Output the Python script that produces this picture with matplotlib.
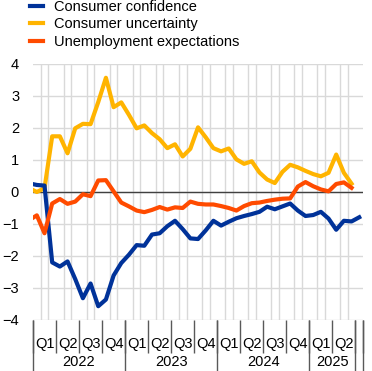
import numpy as np
import matplotlib
matplotlib.use("Agg")
import matplotlib.pyplot as plt
import matplotlib.transforms as mtransforms

plt.rcParams['font.family'] = ['Liberation Sans', 'DejaVu Sans']

# monthly values, Dec 2021 onwards (Dec 2021 sits just left of the axis)
confidence = [0.27,
              0.22, 0.20, -2.20, -2.33, -2.17, -2.72, -3.32, -2.86, -3.57, -3.36, -2.61, -2.22,
              -1.96, -1.66, -1.68, -1.33, -1.29, -1.07, -0.90, -1.16, -1.45, -1.47, -1.20, -0.90,
              -1.05, -0.93, -0.82, -0.75, -0.69, -0.62, -0.46, -0.54, -0.45, -0.36, -0.58, -0.75,
              -0.72, -0.62, -0.83, -1.18, -0.90, -0.92, -0.79]
uncertainty = [0.12,
               0.00, 0.12, 1.74, 1.74, 1.21, 1.99, 2.13, 2.12, 2.81, 3.57, 2.65, 2.80,
               2.41, 1.99, 2.08, 1.84, 1.65, 1.37, 1.49, 1.11, 1.35, 2.02, 1.71, 1.37,
               1.27, 1.36, 1.02, 0.88, 0.96, 0.61, 0.39, 0.28, 0.63, 0.85, 0.77, 0.66,
               0.56, 0.49, 0.60, 1.17, 0.60, 0.26]
unemployment = [-0.88,
                -0.73, -1.29, -0.36, -0.22, -0.37, -0.30, -0.07, -0.13, 0.36, 0.37, 0.02, -0.33,
                -0.45, -0.58, -0.63, -0.56, -0.47, -0.55, -0.48, -0.50, -0.30, -0.37, -0.39, -0.39,
                -0.44, -0.50, -0.58, -0.44, -0.35, -0.33, -0.28, -0.24, -0.21, -0.20, 0.17, 0.31,
                0.18, 0.08, 0.02, 0.25, 0.30, 0.13]

quarter_labels = ['Q1', 'Q2', 'Q3', 'Q4'] * 3 + ['Q1', 'Q2']
years = ['2022', '2023', '2024', '2025']
year_months = [12, 12, 12, 6]   # months under each year label
n_months = 43

blue = '#003299'
yellow = '#FFB400'
orange = '#FF4B00'
grid = '#D9D9D9'
dark = '#595959'

fig = plt.figure(figsize=(3.72, 3.71), dpi=100)
ax = fig.add_axes([0.0887, 0.1375, 0.8873, 0.69])

x_conf = np.arange(len(confidence)) - 0.5
x_unc = np.arange(len(uncertainty)) - 0.5
x_unemp = np.arange(len(unemployment)) - 0.5

ax.plot(x_conf, confidence, color=blue, lw=3, label='Consumer confidence', zorder=4)
ax.plot(x_unc, uncertainty, color=yellow, lw=3, label='Consumer uncertainty', zorder=3)
ax.plot(x_unemp, unemployment, color=orange, lw=3, label='Unemployment expectations', zorder=5)
ax.axhline(0, color='#404040', lw=1, zorder=2)

ax.set_xlim(0, n_months)
ax.set_ylim(-4, 4)
ax.set_yticks(range(-4, 5))
ax.tick_params(axis='y', length=0, pad=10, labelsize=10.5)
for s in ax.spines.values():
    s.set_visible(False)

ax.set_xticks(np.arange(0, n_months + 1), minor=True)
ax.grid(which='minor', axis='x', color=grid, lw=1, zorder=0)
ax.grid(which='major', axis='y', color=grid, lw=1, zorder=0)
ax.set_axisbelow(True)

q_edges = list(range(0, 43, 3)) + [n_months]
ax.set_xticks(q_edges)
ax.set_xticklabels([])
ax.tick_params(axis='x', which='major', length=24, width=1, color=dark)
ax.tick_params(axis='x', which='minor', length=0)

y_edges = list(np.cumsum([0] + year_months)) + [n_months]
sec = ax.secondary_xaxis('bottom')
sec.set_xticks(y_edges)
sec.set_xticklabels([])
sec.tick_params(length=37, width=1, color=dark)
sec.spines['bottom'].set_visible(False)

trans = mtransforms.blended_transform_factory(ax.transData, ax.transAxes)
for k, q in enumerate(quarter_labels):
    ax.text(3 * k + 1.5, -0.095, q, transform=trans, ha='center', va='center', fontsize=10.5)
start = 0
for y, m in zip(years, year_months):
    ax.text(start + m / 2, -0.165, y, transform=trans, ha='center', va='center', fontsize=10.5)
    start += m

fig.legend(loc='upper left', bbox_to_anchor=(0.065, 1.015), frameon=False,
           fontsize=10.5, handlelength=0.9, handletextpad=0.75, labelspacing=0.22,
           borderaxespad=0)

fig.savefig('out.png', dpi=100)
